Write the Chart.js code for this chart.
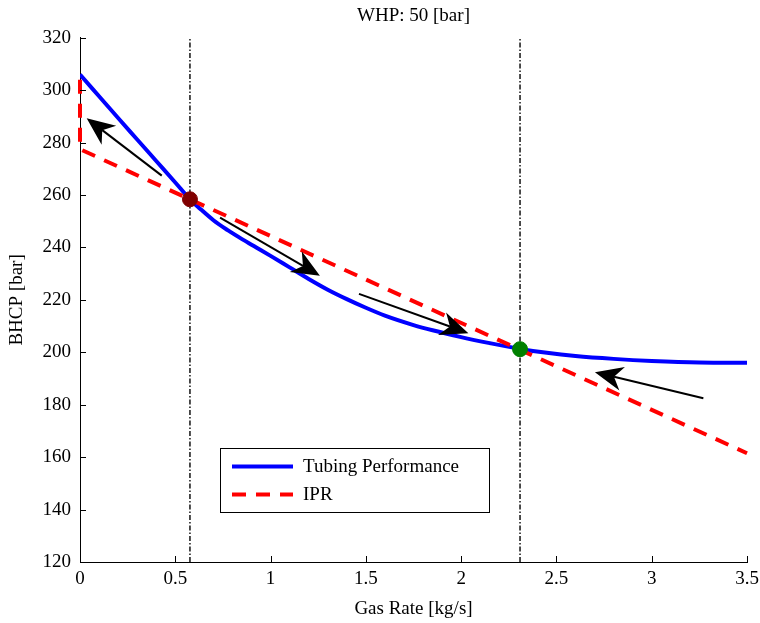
<!DOCTYPE html>
<html><head><meta charset="utf-8">
<script src="https://cdn.jsdelivr.net/npm/chart.js@4.4.0/dist/chart.umd.min.js"></script>
<style>html,body{margin:0;padding:0;background:#fff}#wrap{width:760px;height:623px}</style>
</head><body><div id="wrap"><canvas id="c" width="760" height="623"></canvas></div>
<script>
// ---- data ----
const tubingRate = [0, 0.1, 0.2, 0.3, 0.4, 0.5, 0.577, 0.63, 0.7, 0.775, 0.85, 0.925, 1.0, 1.1, 1.2, 1.3, 1.4, 1.5, 1.6, 1.75, 1.85, 2.0, 2.15, 2.309, 2.45, 2.6, 2.8, 3.0, 3.25, 3.5];
const tubingBHCP = [306, 297.7, 289.4, 281.2, 273.0, 264.8, 258.4, 254.8, 250.4, 246.6, 243.2, 240.0, 236.8, 232.4, 228.0, 223.9, 220.3, 217.0, 214.0, 210.4, 208.4, 205.8, 203.5, 201.3, 199.8, 198.6, 197.5, 196.7, 196.1, 196];
const iprRate = [0, 0, 3.5];
const iprBHCP = [304, 277.5, 161.5];
const operatingRate = [0.577, 2.309];
const operatingBHCP = [258.4, 201.2];
const operatingColors = ['#800000', '#008000'];
const arrowTailRate = [0.429, 0.735, 1.464, 3.271];
const arrowTailBHCP = [267.4, 251.4, 222.3, 182.5];
const arrowTipRate = [0.035, 1.259, 2.038, 2.702];
const arrowTipBHCP = [289.3, 229.2, 207.3, 192.4];
const xTicks = [0, 0.5, 1, 1.5, 2, 2.5, 3, 3.5];
const yTicks = [120, 140, 160, 180, 200, 220, 240, 260, 280, 300, 320];
const titleText = 'WHP: 50 [bar]';
const xTitle = 'Gas Rate [kg/s]';
const yTitle = 'BHCP [bar]';
const seriesLabels = ['Tubing Performance', 'IPR'];

const FONT = '"Liberation Serif", "Times New Roman", serif';
const FS = 19;
const zip = (xs, ys) => xs.map((x, i) => ({x, y: ys[i]}));

const datasets = [
  {label: seriesLabels[0], data: zip(tubingRate, tubingBHCP), borderColor: '#0000ff', borderWidth: 4,
   pointRadius: 0, cubicInterpolationMode: 'monotone', order: 3, fill: false, inLegend: true},
  {label: seriesLabels[1], data: zip(iprRate, iprBHCP), borderColor: '#ff0000', borderWidth: 4,
   borderDash: [14, 10], pointRadius: 0, tension: 0, order: 2, fill: false, clip: 8, inLegend: true},
];
operatingRate.forEach((r, i) => {
  datasets.push({label: 'vline' + i, data: [{x: r, y: yTicks[0]}, {x: r, y: yTicks[yTicks.length - 1]}],
    borderColor: '#000', borderWidth: 1.4, borderDash: [5, 2, 1.5, 2], pointRadius: 0, order: 5, fill: false});
  datasets.push({label: 'op' + i, data: [{x: r, y: operatingBHCP[i]}], showLine: false,
    pointRadius: 7.5, pointBackgroundColor: operatingColors[i], pointBorderColor: operatingColors[i],
    pointBorderWidth: 1, order: 0, clip: false});
});

const decor = {
  id: 'decor',
  afterDatasetsDraw(chart) {
    const ctx = chart.ctx, xs = chart.scales.x, ys = chart.scales.y, a = chart.chartArea;
    ctx.save();
    ctx.strokeStyle = '#000'; ctx.lineWidth = 1;
    ctx.beginPath();
    xTicks.forEach(t => { const p = Math.round(xs.getPixelForValue(t)) + 0.5; ctx.moveTo(p, a.bottom); ctx.lineTo(p, a.bottom - 6); });
    yTicks.forEach(t => { const p = Math.round(ys.getPixelForValue(t)) + 0.5; ctx.moveTo(a.left, p); ctx.lineTo(a.left + 6, p); });
    ctx.stroke();
    for (let i = 0; i < arrowTailRate.length; i++) {
      const x0 = xs.getPixelForValue(arrowTailRate[i]), y0 = ys.getPixelForValue(arrowTailBHCP[i]);
      const x1 = xs.getPixelForValue(arrowTipRate[i]), y1 = ys.getPixelForValue(arrowTipBHCP[i]);
      const dx = x1 - x0, dy = y1 - y0, len = Math.hypot(dx, dy);
      const ux = dx / len, uy = dy / len, nx = -uy, ny = ux;
      const L = 28, W = 12, N = 0.7 * L;
      ctx.strokeStyle = '#000'; ctx.lineWidth = 2;
      ctx.beginPath(); ctx.moveTo(x0, y0); ctx.lineTo(x1 - ux * N, y1 - uy * N); ctx.stroke();
      ctx.fillStyle = '#000';
      ctx.beginPath();
      ctx.moveTo(x1, y1);
      ctx.lineTo(x1 - ux * L + nx * W, y1 - uy * L + ny * W);
      ctx.lineTo(x1 - ux * N, y1 - uy * N);
      ctx.lineTo(x1 - ux * L - nx * W, y1 - uy * L - ny * W);
      ctx.closePath(); ctx.fill();
    }
    ctx.restore();
  },
  afterDraw(chart) {
    const ctx = chart.ctx;
    const bx = 220.5, by = 448.5, bw = 269, bh = 64;
    ctx.save();
    ctx.fillStyle = '#fff'; ctx.fillRect(bx, by, bw, bh);
    ctx.strokeStyle = '#000'; ctx.lineWidth = 1; ctx.strokeRect(bx, by, bw, bh);
    const items = chart.data.datasets.filter(d => d.inLegend);
    items.forEach((d, i) => {
      const y = by + 18 + i * 28;
      ctx.strokeStyle = d.borderColor; ctx.lineWidth = 4;
      ctx.setLineDash(d.borderDash || []);
      ctx.beginPath(); ctx.moveTo(232, y); ctx.lineTo(293, y); ctx.stroke();
      ctx.setLineDash([]);
      ctx.fillStyle = '#000'; ctx.font = FS + 'px ' + FONT;
      ctx.textBaseline = 'middle'; ctx.textAlign = 'left';
      ctx.fillText(d.label, 303, y + 1);
    });
    ctx.restore();
  }
};

new Chart(document.getElementById('c'), {
  type: 'line',
  data: {datasets},
  plugins: [decor],
  options: {
    responsive: false, animation: false, devicePixelRatio: 1,
    layout: {padding: {left: 0, right: 13, top: 0, bottom: 0}},
    plugins: {
      legend: {display: false}, tooltip: {enabled: false},
      title: {display: true, text: titleText, fullSize: false, color: '#000',
        font: {family: FONT, size: FS, weight: 'normal'}, padding: {top: 5, bottom: 10}}
    },
    scales: {
      x: {type: 'linear', min: 0, max: 3.5,
        afterFit(s) { s.height = 61; s.paddingLeft = 0; s.paddingRight = 0; },
        afterBuildTicks(s) { s.ticks = xTicks.map(v => ({value: v})); },
        ticks: {color: '#000', font: {family: FONT, size: FS}, padding: 6, maxRotation: 0, autoSkip: false,
          callback: v => String(v)},
        grid: {display: true, drawOnChartArea: false, drawTicks: false},
        border: {display: true, color: '#000', width: 1},
        title: {display: true, text: xTitle, color: '#000', font: {family: FONT, size: FS}, padding: {top: 0, bottom: 3}}
      },
      y: {type: 'linear', min: 120, max: 320,
        afterFit(s) { s.width = 80; s.paddingTop = 0; s.paddingBottom = 0; },
        afterBuildTicks(s) { s.ticks = yTicks.map(v => ({value: v})); },
        ticks: {color: '#000', font: {family: FONT, size: FS}, padding: 9, autoSkip: false,
          callback: v => String(v)},
        grid: {display: true, drawOnChartArea: false, drawTicks: false},
        border: {display: true, color: '#000', width: 1},
        title: {display: true, text: yTitle, color: '#000', font: {family: FONT, size: FS}, padding: {top: 6, bottom: 0}}
      }
    }
  }
});
</script></body></html>
